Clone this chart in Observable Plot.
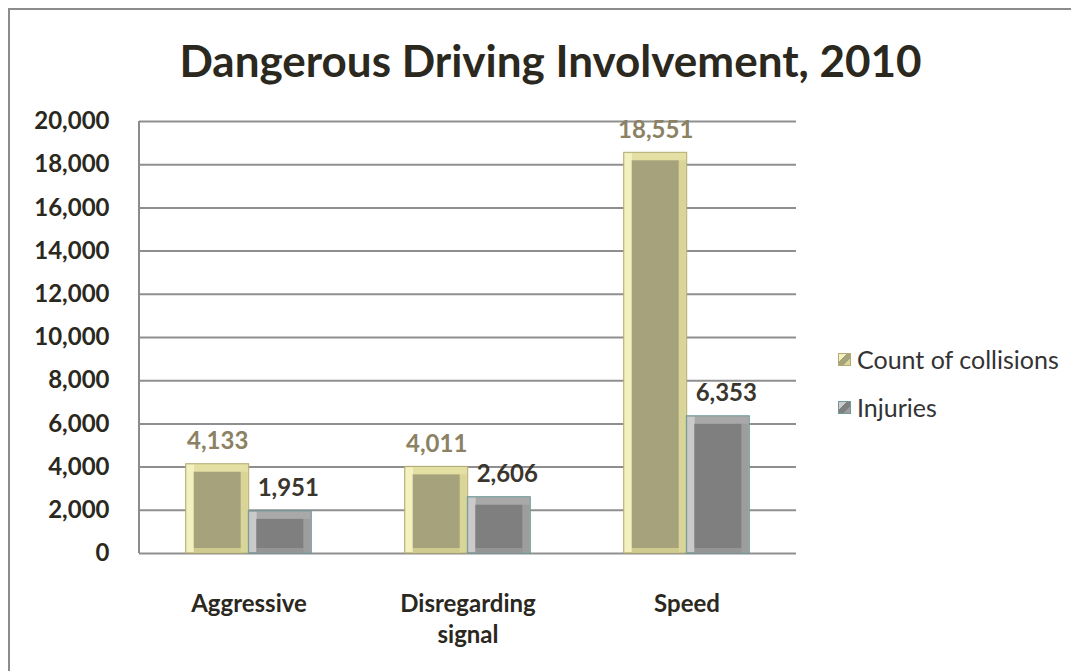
<!DOCTYPE html>
<html>
<head>
<meta charset="utf-8">
<script src="https://cdn.jsdelivr.net/npm/d3@7"></script>
<script src="https://cdn.jsdelivr.net/npm/@observablehq/plot@0.6"></script>
<style>
  html, body { margin: 0; padding: 0; background: #fff; overflow: hidden; }
  body { width: 1071px; height: 671px; position: relative; font-family: Lato, "Open Sans", sans-serif; }
  #frame { position: absolute; left: 8px; top: 8px; width: 1063px; height: 663px; border-left: 2px solid #8c8c8c; border-top: 2px solid #8c8c8c; box-sizing: border-box; }
  #title { position: absolute; left: 0; top: 28px; width: 1071px; padding-left: 30px; box-sizing: border-box; text-align: center; font-size: 44px; font-weight: 700; color: #2b2820; line-height: 64px; }
  #chart { position: absolute; left: 0; top: 100px; }
  #legend { position: absolute; left: 838px; top: 335px; font-size: 25px; color: #333; white-space: nowrap; }
  .row { display: flex; align-items: center; height: 48px; }
  .sw { width: 11px; height: 11px; margin-right: 6px; border: 1px solid; }
</style>
</head>
<body>
<div id="frame"></div>
<div id="title">Dangerous Driving Involvement, 2010</div>
<div id="chart"></div>
<div id="legend"></div>
<script>
const categories = ["Aggressive", "Disregarding signal", "Speed"];
const categoryLabels = ["Aggressive", "Disregarding\nsignal", "Speed"];
const seriesNames = ["Count of collisions", "Injuries"];
const collisions = [4133, 4011, 18551];
const injuries = [1951, 2606, 6353];
const yTicks = [0, 2000, 4000, 6000, 8000, 10000, 12000, 14000, 16000, 18000, 20000];

const colData = categories.map((c, i) => ({cat: c, value: collisions[i]}));
const injData = categories.map((c, i) => ({cat: c, value: injuries[i]}));

const styles = {
  col: {border: "#b3aa72", left: "#f4f1c0", top: "#e4dfa2", right: "#d9d498", bottom: "#cfca8e", inner: "#a6a27b", label: "#8b8163"},
  inj: {border: "#6d9a9a", left: "#cacaca", top: "#a9a9a9", right: "#9d9d9d", bottom: "#959595", inner: "#7f7f7f", label: "#3a362d"}
};

const half = 31.3;
const bev = 8;
function bevelBars(data, s, dx) {
  return [
    Plot.barY(data, {x: "cat", y: "value", dx, fill: s.top, stroke: s.border, strokeWidth: 1}),
    Plot.barY(data, {x: "cat", y: "value", dx, fill: s.left, insetRight: 62.6 - bev, insetTop: 1, insetLeft: 1, insetBottom: 1}),
    Plot.barY(data, {x: "cat", y: "value", dx, fill: s.right, insetLeft: 62.6 - bev, insetTop: bev, insetRight: 1, insetBottom: 1}),
    Plot.tickY(data, {x: "cat", y: () => 0, dx, dy: -3, stroke: s.bottom, strokeWidth: 5, insetLeft: bev, insetRight: bev}),
    Plot.barY(data, {x: "cat", y: "value", dx, fill: s.inner, insetLeft: bev, insetRight: bev, insetTop: bev, insetBottom: 5})
  ];
}

const axisLine = (index, scales, values, dims) => {
  const g = d3.create("svg:g");
  g.append("line")
    .attr("x1", dims.marginLeft).attr("x2", dims.marginLeft)
    .attr("y1", dims.marginTop).attr("y2", dims.height - dims.marginBottom)
    .attr("stroke", "#8c8c8c").attr("stroke-width", 2);
  return g.node();
};

const chart = Plot.plot({
  width: 1071,
  height: 571,
  marginLeft: 139,
  marginRight: 275,
  marginTop: 21,
  marginBottom: 118,
  style: {fontFamily: "Lato, 'Open Sans', sans-serif", background: "transparent"},
  x: {domain: categories, paddingInner: 0.714, paddingOuter: 0.357, label: null},
  y: {domain: [0, 20000], label: null},
  marks: [
    Plot.ruleY(yTicks, {stroke: "#8f8f8f", strokeWidth: 2}),
    axisLine,
    Plot.axisY({ticks: yTicks, tickSize: 0, tickPadding: 30, tickFormat: d3.format(","), fontSize: 24, fontWeight: 700, fill: "#2b2820", label: null}),
    Plot.axisX({tickSize: 0, tickPadding: 36, fontSize: 24, fontWeight: 700, fill: "#2b2820", label: null, lineHeight: 1.3,
      tickFormat: d => categoryLabels[categories.indexOf(d)]}),
    ...bevelBars(colData, styles.col, -half),
    ...bevelBars(injData, styles.inj, half),
    Plot.text(colData, {x: "cat", y: "value", dx: -half, dy: -15, lineAnchor: "bottom", text: d => d3.format(",")(d.value), fill: styles.col.label, fontSize: 24, fontWeight: 700}),
    Plot.text(injData, {x: "cat", y: "value", dx: half + 8, dy: -15, lineAnchor: "bottom", text: d => d3.format(",")(d.value), fill: styles.inj.label, fontSize: 24, fontWeight: 700})
  ]
});
document.getElementById("chart").appendChild(chart);

const legend = document.getElementById("legend");
const legendStyles = [styles.col, styles.inj];
seriesNames.forEach((name, i) => {
  const s = legendStyles[i];
  const row = document.createElement("div");
  row.className = "row";
  const sw = document.createElement("span");
  sw.className = "sw";
  sw.style.borderColor = s.border;
  sw.style.background = `linear-gradient(135deg, ${s.left} 0%, ${s.left} 35%, ${s.inner} 36%, ${s.inner} 70%, ${s.right} 71%)`;
  const t = document.createElement("span");
  t.textContent = name;
  row.appendChild(sw);
  row.appendChild(t);
  legend.appendChild(row);
});
</script>
</body>
</html>
